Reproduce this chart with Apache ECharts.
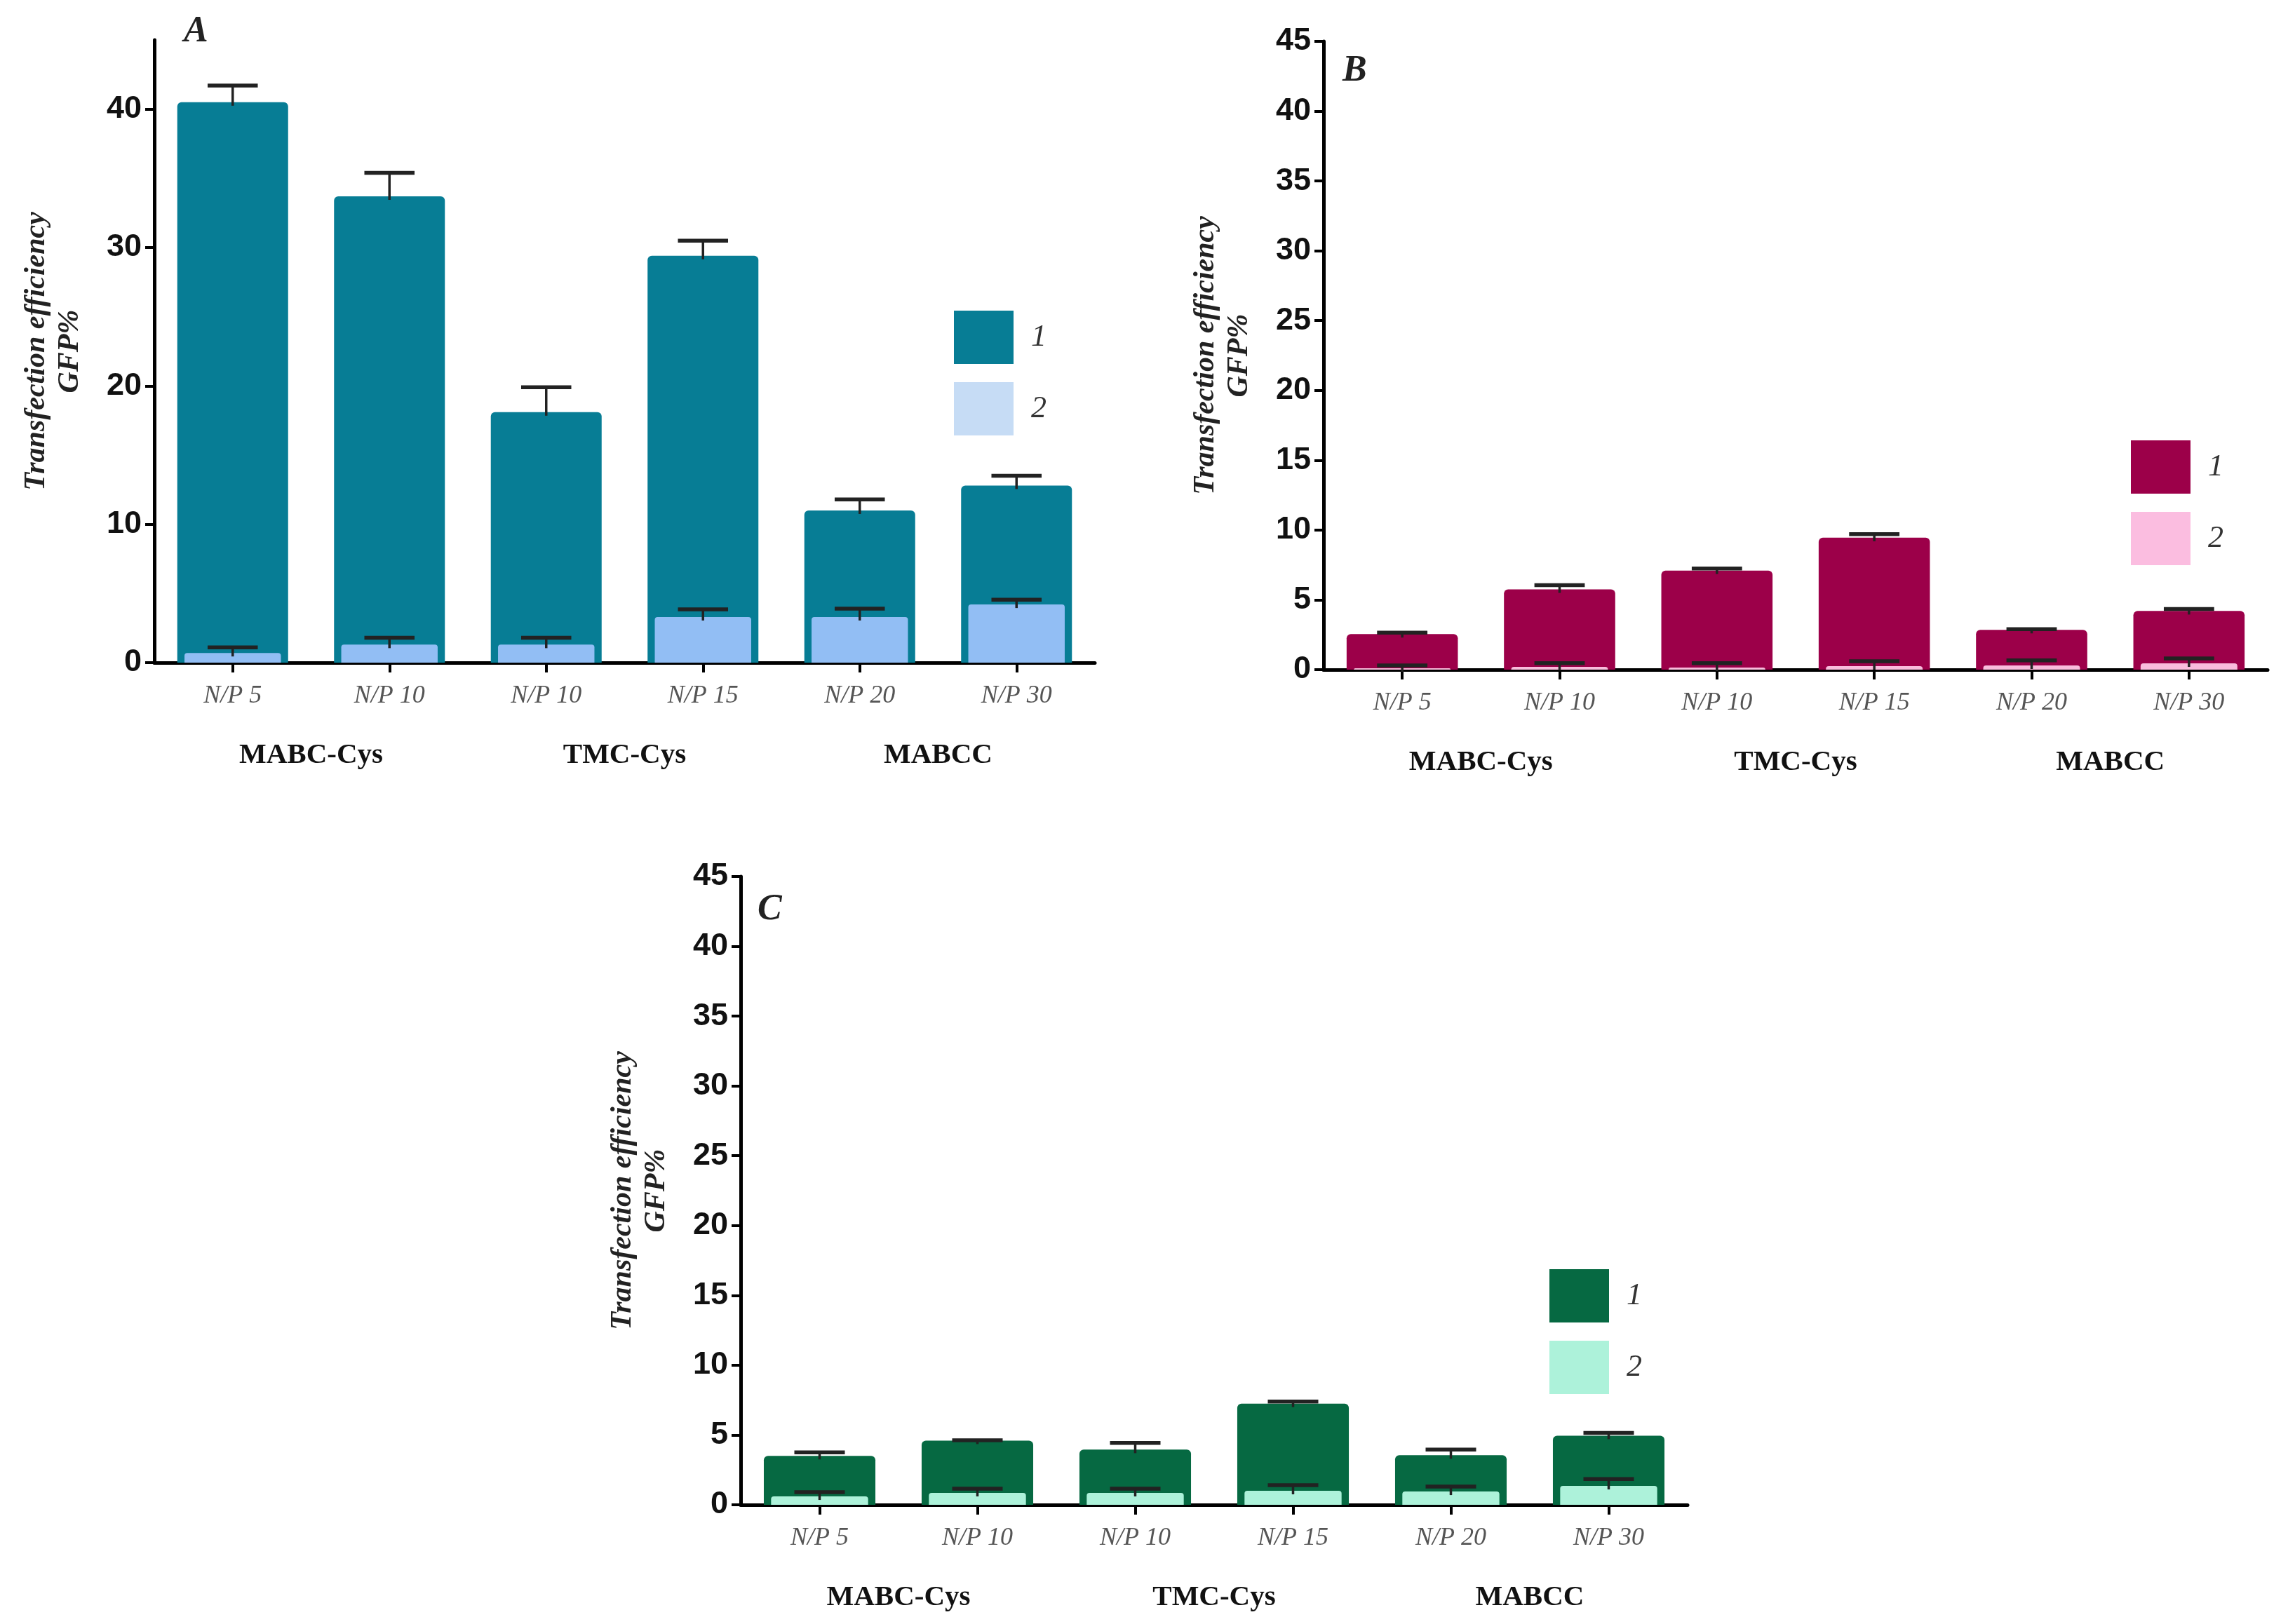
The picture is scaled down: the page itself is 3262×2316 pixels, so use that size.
<!DOCTYPE html>
<html><head><meta charset="utf-8">
<script src="https://cdn.jsdelivr.net/npm/echarts@6/dist/echarts.min.js"></script>
<style>html,body{margin:0;padding:0;background:#fff}#c{width:3262px;height:2316px}</style>
</head><body><div id="c"></div>
<script>
// ---------- data ----------
const categories = ['N/P 5', 'N/P 10', 'N/P 10', 'N/P 15', 'N/P 20', 'N/P 30'];
const groups = ['MABC-Cys', 'TMC-Cys', 'MABCC'];
const legendNames = ['1', '2'];
const panelLetters = ['A', 'B', 'C'];
const yTicksA = [0, 10, 20, 30, 40];
const yTicksBC = [0, 5, 10, 15, 20, 25, 30, 35, 40, 45];

const panelA_1 = [40.5, 33.7, 18.1, 29.4, 11.0, 12.8];
const panelA_1_err = [1.2, 1.7, 1.8, 1.1, 0.8, 0.7];
const panelA_2 = [0.7, 1.3, 1.3, 3.3, 3.3, 4.2];
const panelA_2_err = [0.4, 0.5, 0.5, 0.55, 0.6, 0.35];

const panelB_1 = [2.55, 5.75, 7.1, 9.45, 2.85, 4.2];
const panelB_1_err = [0.1, 0.3, 0.15, 0.25, 0.05, 0.15];
const panelB_2 = [0.1, 0.2, 0.15, 0.25, 0.3, 0.45];
const panelB_2_err = [0.2, 0.27, 0.32, 0.35, 0.37, 0.35];

const panelC_1 = [3.5, 4.6, 3.95, 7.25, 3.55, 4.95];
const panelC_1_err = [0.25, 0.02, 0.48, 0.15, 0.4, 0.2];
const panelC_2 = [0.6, 0.85, 0.85, 1.0, 0.95, 1.35];
const panelC_2_err = [0.3, 0.3, 0.3, 0.4, 0.35, 0.5];

// ---------- layout / styles ----------
const panels = [
  { s1: panelA_1, e1: panelA_1_err, s2: panelA_2, e2: panelA_2_err, ticks: yTicksA,
    grid: { left: 220, top: 57, width: 1341, height: 888 },
    dark: '#077d95', light: '#92bef4', legendLight: '#c6dcf5',
    legend: { left: 1360, top: 443 }, title: { left: 262, top: 20 } },
  { s1: panelB_1, e1: panelB_1_err, s2: panelB_2, e2: panelB_2_err, ticks: yTicksBC,
    grid: { left: 1887, top: 59, width: 1346, height: 896 },
    dark: '#9c0049', light: '#f9bcdc', legendLight: '#fbbde0',
    legend: { left: 3038, top: 628 }, title: { left: 1914, top: 76 } },
  { s1: panelC_1, e1: panelC_1_err, s2: panelC_2, e2: panelC_2_err, ticks: yTicksBC,
    grid: { left: 1056, top: 1250, width: 1350, height: 896 },
    dark: '#066942', light: '#adf2da', legendLight: '#adf2da',
    legend: { left: 2209, top: 1810 }, title: { left: 1080, top: 1272 } }
];

const SERIF = 'Liberation Serif, Times New Roman, serif';
const SANS = 'Liberation Sans, Arial, sans-serif';

function errRender(params, api) {
  const x = api.value(0), m = api.value(1), e = api.value(2);
  const p0 = api.coord([x, m]);
  const p1 = api.coord([x, m + e]);
  const bw = api.size([1, 0])[0];
  const hw = bw * 0.16;
  return {
    type: 'group',
    children: [
      { type: 'line', shape: { x1: p0[0], y1: p0[1] + 5, x2: p1[0], y2: p1[1] },
        style: { stroke: '#222', lineWidth: 3.5 } },
      { type: 'line', shape: { x1: p1[0] - hw, y1: p1[1], x2: p1[0] + hw, y2: p1[1] },
        style: { stroke: '#222', lineWidth: 5.5 } }
    ]
  };
}

const option = {
  backgroundColor: '#ffffff',
  animation: false,
  title: [], grid: [], xAxis: [], yAxis: [], legend: [], series: []
};

panels.forEach((p, i) => {
  option.title.push({
    text: panelLetters[i], left: p.title.left, top: p.title.top, padding: 0,
    textStyle: { fontFamily: SERIF, fontStyle: 'italic', fontWeight: 'bold', fontSize: 52, color: '#222' }
  });
  option.grid.push(Object.assign({ outerBoundsMode: 'none', containLabel: false }, p.grid));
  option.yAxis.push({
    type: 'value', gridIndex: i, min: 0, max: 45, interval: p.ticks[1] - p.ticks[0],
    name: 'Transfection efficiency\nGFP%', nameLocation: 'middle', nameGap: 96, nameRotate: 90,
    nameTextStyle: { fontFamily: SERIF, fontStyle: 'italic', fontWeight: 'bold', fontSize: 42, lineHeight: 48, color: '#222' },
    axisLine: { show: true, lineStyle: { color: '#000', width: 5 } },
    axisTick: { show: true, length: 13, lineStyle: { color: '#000', width: 4 }, customValues: p.ticks },
    axisLabel: { margin: 18, fontFamily: SANS, fontWeight: 'bold', fontSize: 45, color: '#111', customValues: p.ticks },
    splitLine: { show: false }
  });
  // main category axis
  option.xAxis.push({
    type: 'category', gridIndex: i, data: categories, position: 'bottom',
    axisLine: { show: true, lineStyle: { color: '#000', width: 5 } },
    axisTick: { show: true, alignWithLabel: true, length: 14, lineStyle: { color: '#000', width: 4 } },
    axisLabel: { interval: 0, margin: 30, hideOverlap: false, fontFamily: SERIF, fontStyle: 'italic', fontSize: 36, color: '#555' },
    splitLine: { show: false }
  });
  // group label axis
  option.xAxis.push({
    type: 'category', gridIndex: i, data: groups, position: 'bottom',
    axisLine: { show: false }, axisTick: { show: false }, splitLine: { show: false },
    axisLabel: { interval: 0, margin: 112, hideOverlap: false, fontFamily: SERIF, fontWeight: 'bold', fontSize: 41, color: '#111' }
  });
  // hidden axis for the inner (lighter) bars
  option.xAxis.push({ type: 'category', gridIndex: i, data: categories, show: false });

  option.legend.push({
    orient: 'vertical', left: p.legend.left, top: p.legend.top, padding: 0,
    itemWidth: 85, itemHeight: 76, itemGap: 26, icon: 'rect', selectedMode: false,
    data: [
      { name: legendNames[0], itemStyle: { color: p.dark } },
      { name: legendNames[1], itemStyle: { color: p.legendLight } }
    ],
    textStyle: { fontFamily: SERIF, fontStyle: 'italic', fontSize: 44, color: '#333', padding: [0, 0, 0, 20] }
  });

  option.series.push({
    name: legendNames[0], type: 'bar', xAxisIndex: 3 * i, yAxisIndex: i, data: p.s1,
    barWidth: '70.7%', z: 2,
    itemStyle: { color: p.dark, borderRadius: [6, 6, 0, 0] }
  });
  option.series.push({
    name: legendNames[1], type: 'bar', xAxisIndex: 3 * i + 2, yAxisIndex: i, data: p.s2,
    barWidth: '61.5%', z: 3,
    itemStyle: { color: p.light, borderRadius: [4, 4, 0, 0] }
  });
  option.series.push({
    name: 'err1_' + i, type: 'custom', xAxisIndex: 3 * i, yAxisIndex: i, z: 4,
    renderItem: errRender, encode: { x: 0, y: 1 },
    data: categories.map((c, k) => [k, p.s1[k], p.e1[k]])
  });
  option.series.push({
    name: 'err2_' + i, type: 'custom', xAxisIndex: 3 * i, yAxisIndex: i, z: 5,
    renderItem: errRender, encode: { x: 0, y: 1 },
    data: categories.map((c, k) => [k, p.s2[k], p.e2[k]])
  });
});

const chart = echarts.init(document.getElementById('c'), null, { renderer: 'canvas' });
chart.setOption(option);
</script>
</body></html>
